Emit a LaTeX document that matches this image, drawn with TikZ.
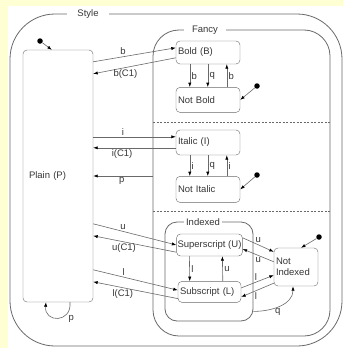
\documentclass[tikz,border=0pt]{standalone}
\usepackage{fontspec}
\setmainfont{Liberation Sans}
\usepackage{xcolor}
\usetikzlibrary{arrows.meta, positioning, calc}

\definecolor{bgyellow}{RGB}{255,255,212}
\definecolor{linegray}{RGB}{105,105,105}
\definecolor{textgray}{RGB}{55,55,55}

\begin{document}
\begin{tikzpicture}[
    x=1pt, y=-1pt,
    font=\fontsize{9.5}{11}\selectfont, text=textgray,
    node distance=23pt,
    statebox/.style={rectangle, rounded corners=4pt, draw=linegray, fill=white, align=left, inner sep=2pt, minimum height=24pt},
    state/.style={statebox, text width=60pt},
    region/.style={rectangle, draw=linegray, line width=0.8pt, inner sep=0pt},
    title/.style={fill=white, inner ysep=1pt},
    initdot/.style={circle, fill=black, inner sep=0pt, minimum size=5.5pt},
    arrow/.style={-{Latex[length=4.5pt, width=3.2pt, color=black]}, draw=linegray, line width=0.6pt},
    lbl/.style={inner sep=1.5pt},
    sep/.style={draw=linegray, dash pattern=on 2pt off 1.5pt, line width=0.6pt}
]

% background
\fill[bgyellow] (0,0) rectangle (343,348);
\fill[white] (8,6) rectangle (343,348);
\useasboundingbox (0,0) rectangle (343,348);

% super states
\node[region, rounded corners=45pt, minimum width=332pt, minimum height=332pt] (stylebox) at (176,180) {};
\node[region, rounded corners=26pt, minimum width=177pt, minimum height=306pt] (fancy) at (241.5,183) {};
\node[region, rounded corners=12pt, minimum width=88pt, minimum height=99pt] (indexed) at (209,271.5) {};

\node[title, inner xsep=10pt] (styletitle) at (88,14) {Style};
\node[title, inner xsep=8pt] (fancytitle) at (205,30) {Fancy};
\node[title, inner xsep=2pt] (indexedtitle) at (203,222) {Indexed};

\draw[sep] (153,122) -- (330,122);
\draw[sep] (153,211) -- (330,211);

% states
\node[state, text width=58pt, inner sep=6pt, minimum height=252pt] (plain) at (58,176) {Plain (P)};

\node[state, minimum height=23pt] (bold) at (208,52.5) {Bold (B)};
\node[state, below=23pt of bold, minimum height=25pt] (notbold) {Not Bold};

\node[state, minimum height=25pt] (italic) at (208,142.5) {Italic (I)};
\node[state, below=21pt of italic, minimum height=26pt] (notitalic) {Not Italic};

\node[statebox, minimum width=65pt, inner sep=1pt, minimum height=22pt] (sup) at (209.5,245) {Superscript (U)};
\node[state, text width=59pt, below=25pt of sup, minimum height=21pt] (sub) {Subscript (L)};

\node[state, text width=40pt, minimum height=38pt] (notidx) at (296,267) {Not\\Indexed};

% initial states
\node[initdot] (plaininit) at (40,41) {};
\node[initdot] (boldinit) at (257,86) {};
\node[initdot] (italicinit) at (257,175) {};
\node[initdot] (idxinit) at (319,237) {};

\draw[arrow] (plaininit) -- ($(plain.north west)+(29,0)$);
\draw[arrow] (boldinit) -- (notbold.east);
\draw[arrow] (italicinit) -- (notitalic.east);
\draw[arrow] (idxinit) -- ($(notidx.north)+(5,0)$);

% plain <-> fancy
\draw[arrow] ($(plain.north east)+(0,12)$) -- node[lbl, above, pos=0.36] {b} ($(bold.north west)+(0,7)$);
\draw[arrow] ($(bold.north west)+(0,17)$) -- node[lbl, below, pos=0.61] {b(C1)} ($(plain.north east)+(0,24)$);
\draw[arrow] ($(plain.north east)+(0,87)$) -- node[lbl, above, pos=0.36] {i} ($(italic.north west)+(0,7)$);
\draw[arrow] ($(italic.north west)+(0,18)$) -- node[lbl, below, pos=0.65] {i(C1)} ($(plain.north east)+(0,98)$);
\draw[arrow] (fancy.west |- plain.east) -- node[lbl, below, pos=0.52] {p} (plain.east);
\draw[arrow] ($(plain.north east)+(0,174)$) -- node[lbl, above, pos=0.36] {u} (sup.west);
\draw[arrow] ($(sup.south west)+(0,-4)$) -- node[lbl, below, pos=0.63] {u(C1)} ($(plain.north east)+(0,186)$);
\draw[arrow] ($(plain.north east)+(0,220)$) -- node[lbl, above, pos=0.36] {l} ($(sub.north west)+(0,9)$);
\draw[arrow] ($(sub.south west)+(0,-4)$) -- node[lbl, below, pos=0.65] {l(C1)} ($(plain.north east)+(0,232)$);
\draw[arrow] ($(plain.south)+(12,0)$) .. controls +(2,21) and +(-2,21) .. node[lbl, pos=0.25, below right] {p} ($(plain.south)+(-12,0)$);

% bold
\draw[arrow] ($(bold.south west)+(14,0)$) -- node[lbl, right] {b} ($(notbold.north west)+(14,0)$);
\draw[arrow] ($(bold.south west)+(32,0)$) -- node[lbl, right] {q} ($(notbold.north west)+(32,0)$);
\draw[arrow] ($(notbold.north west)+(51,0)$) -- node[lbl, right] {b} ($(bold.south west)+(51,0)$);

% italic
\draw[arrow] ($(italic.south west)+(14,0)$) -- node[lbl, right] {i} ($(notitalic.north west)+(14,0)$);
\draw[arrow] ($(italic.south west)+(32,0)$) -- node[lbl, right] {q} ($(notitalic.north west)+(32,0)$);
\draw[arrow] ($(notitalic.north west)+(51,0)$) -- node[lbl, right] {i} ($(italic.south west)+(51,0)$);

% indexed
\draw[arrow] ($(sup.south west)+(13,0)$) -- node[lbl, right] {l} ($(sub.north west)+(12,0)$);
\draw[arrow] ($(sub.north west)+(45,0)$) -- node[lbl, right] {u} ($(sup.south west)+(46,0)$);

\draw[arrow] ($(sup.north east)+(0,4)$) -- node[lbl, above, pos=0.5] {u} ($(notidx.north west)+(0,4)$);
\draw[arrow] ($(notidx.north west)+(0,14)$) -- node[lbl, below, pos=0.5] {u} ($(sup.east)+(0,4)$);
\draw[arrow] ($(sub.east)+(0,-4)$) -- node[lbl, above, pos=0.45] {l} ($(notidx.south west)+(0,-11)$);
\draw[arrow] ($(notidx.south west)+(0,-3)$) -- node[lbl, below, pos=0.55] {l} ($(sub.east)+(0,5)$);
\draw[arrow] ($(indexed.south east)+(0,-10)$) to[out=0, in=-90] node[lbl, pos=0.45, below] {q} ($(notidx.south)+(-3,0)$);

\end{tikzpicture}
\end{document}
